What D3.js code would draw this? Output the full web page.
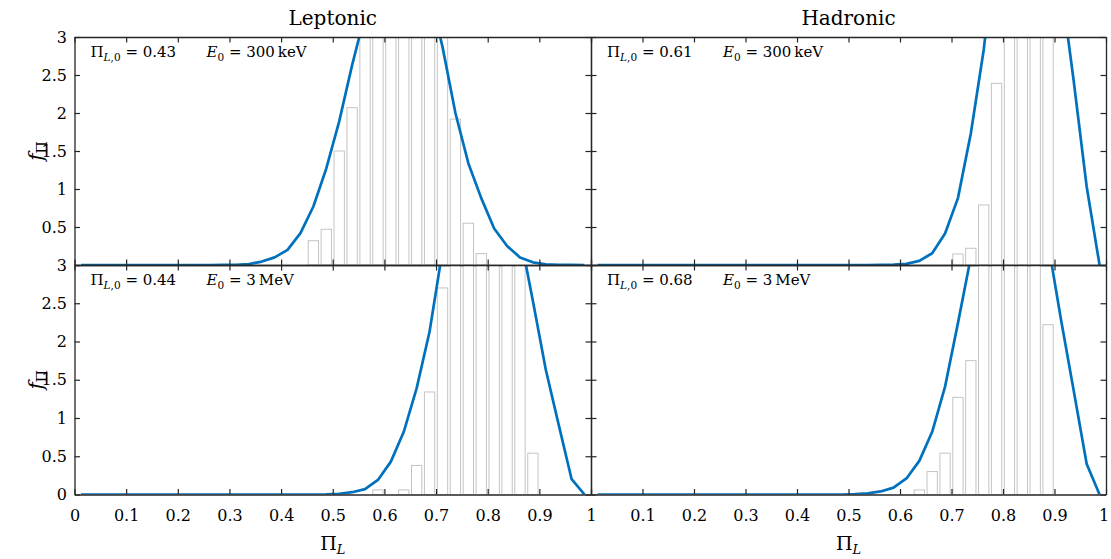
<!DOCTYPE html>
<html><head><meta charset="utf-8">
<script src="https://cdn.jsdelivr.net/npm/d3@7"></script>
<style>
body{margin:0;background:#fff}
svg{display:block}
text{font-family:"DejaVu Serif","Liberation Serif",serif;fill:#000}
</style></head>
<body><svg id="chart" width="1111" height="559"></svg>
<script>
// ---------- data ----------
const binCenters = [0.0125,0.0375,0.0625,0.0875,0.1125,0.1375,0.1625,0.1875,0.2125,0.2375,
  0.2625,0.2875,0.3125,0.3375,0.3625,0.3875,0.4125,0.4375,0.4625,0.4875,
  0.5125,0.5375,0.5625,0.5875,0.6125,0.6375,0.6625,0.6875,0.7125,0.7375,
  0.7625,0.7875,0.8125,0.8375,0.8625,0.8875,0.9125,0.9375,0.9625,0.9875];
const xTicks = [0,0.1,0.2,0.3,0.4,0.5,0.6,0.7,0.8,0.9,1];
const yTicks = [0,0.5,1,1.5,2,2.5,3];
const columnTitles = ["Leptonic","Hadronic"];
const panelNames = ["lep300keV","had300keV","lep3MeV","had3MeV"];
const polInitial = ["0.43","0.61","0.44","0.68"];
const energyValue = ["300","300","3","3"];
const energyUnit = ["keV","keV","MeV","MeV"];

// histogram heights (bins of width 0.025)
const histLep300keV = [0,0,0,0,0,0,0,0,0,0, 0,0,0,0,0,0,0,0,0.32,0.47,
  1.50,2.07,3.6,4.6,5.4,5.7,5.3,4.6,3.5,1.92, 0.55,0.15,0,0,0,0,0,0,0,0];
const histHad300keV = [0,0,0,0,0,0,0,0,0,0, 0,0,0,0,0,0,0,0,0,0,
  0,0,0,0,0,0,0,0,0.145,0.22, 0.79,2.39,7.5,10.5,10.5,8.0,0,0,0,0];
const histLep3MeV = [0,0,0,0,0,0,0,0,0,0, 0,0,0,0,0,0,0,0,0,0,
  0,0,0,0.06,0,0.06,0.38,1.34,2.70,4.3, 5.6,6.5,6.8,6.2,5.4,0.54,0,0,0,0];
const histHad3MeV = [0,0,0,0,0,0,0,0,0,0, 0,0,0,0,0,0,0,0,0,0,
  0,0,0,0,0,0.06,0.30,0.54,1.27,1.75, 4.6,6.6,8.0,8.2,6.5,2.22,0,0,0,0];

// model curves at bin centres
const curveLep300keV = [0,0,0,0,0,0,0,0,0,0, 0,0.001,0.003,0.012,0.045,0.10,0.20,0.42,0.77,1.27,
  1.89,2.63,3.3,3.9,4.3,4.35,4.1,3.6,2.87,2.0, 1.34,0.88,0.48,0.25,0.10,0.035,0.01,0.003,0.001,0];
const curveHad300keV = [0,0,0,0,0,0,0,0,0,0, 0,0,0,0,0,0,0,0,0,0,
  0,0,0.001,0.004,0.015,0.055,0.155,0.415,0.88,1.73, 2.83,4.3,5.6,6.3,6.2,5.4,3.7,2.41,1.03,0];
const curveLep3MeV = [0,0,0,0,0,0,0,0,0,0, 0,0,0,0,0,0,0,0,0,0.003,
  0.01,0.03,0.07,0.19,0.43,0.82,1.39,2.13,3.19,4.0, 4.6,4.9,4.8,4.3,3.4,2.53,1.63,0.91,0.20,0];
const curveHad3MeV = [0,0,0,0,0,0,0,0,0,0, 0,0,0,0,0,0,0,0,0,0,
  0.005,0.015,0.04,0.09,0.21,0.44,0.82,1.41,2.24,3.10, 4.0,4.9,5.4,5.3,4.6,3.29,2.29,1.35,0.40,0];

const histograms = [histLep300keV, histHad300keV, histLep3MeV, histHad3MeV];
const curves = [curveLep300keV, curveHad300keV, curveLep3MeV, curveHad3MeV];

// ---------- layout ----------
const colX = [[74.5,591],[591,1106]];
const rowY = [[37,265],[265,494.5]];
const binWidth = 0.02;
const axisColor = "#262626";
const curveColor = "#0072BD";
const barEdge = "#c4c4c4";

const svg = d3.select("#chart");
const defs = svg.append("defs");

for (let p = 0; p < 4; p++) {
  const col = p % 2, row = Math.floor(p / 2);
  const [x0,x1] = colX[col], [y0,y1] = rowY[row];
  const x = d3.scaleLinear().domain([0,1]).range([x0,x1]);
  const y = d3.scaleLinear().domain([0,3]).range([y1,y0]);
  const g = svg.append("g");
  const clipId = "clip" + p;
  defs.append("clipPath").attr("id", clipId).append("rect")
    .attr("x", x0).attr("y", y0).attr("width", x1-x0).attr("height", y1-y0);
  const plot = g.append("g").attr("clip-path", `url(#${clipId})`);

  const hist = histograms[p].map((v,i)=>({c:binCenters[i], v})).filter(d=>d.v>0);
  plot.selectAll("rect.bar").data(hist).enter().append("rect")
    .attr("class","bar")
    .attr("x", d=>x(d.c - binWidth/2))
    .attr("width", d=>x(binWidth) - x(0))
    .attr("y", d=>y(d.v))
    .attr("height", d=>y(0)-y(d.v))
    .attr("fill","#fff").attr("stroke",barEdge).attr("stroke-width",1);

  const line = d3.line().x((d,i)=>x(binCenters[i])).y(d=>y(d));
  plot.append("path").datum(curves[p]).attr("d", line)
    .attr("fill","none").attr("stroke",curveColor).attr("stroke-width",2.7)
    .attr("stroke-linejoin","round");

  // axes
  const fmtX = d => (col === 1 && d === 0) ? "" : d3.format("")(d);
  const fmtY = d => (row === 0 && d === 0) ? "" : d3.format("")(d);
  const bottom = d3.axisBottom(x).tickValues(xTicks).tickSize(-5.5).tickSizeOuter(0)
    .tickPadding(15).tickFormat(row === 1 ? fmtX : "");
  const top = d3.axisTop(x).tickValues(xTicks).tickSize(-5.5).tickSizeOuter(0).tickFormat("");
  const left = d3.axisLeft(y).tickValues(yTicks).tickSize(-5.5).tickSizeOuter(0)
    .tickPadding(7.5).tickFormat(col === 0 ? fmtY : "");
  const right = d3.axisRight(y).tickValues(yTicks).tickSize(-5.5).tickSizeOuter(0).tickFormat("");
  const axB = g.append("g").attr("transform",`translate(0,${y1})`).call(bottom);
  const axT = g.append("g").attr("transform",`translate(0,${y0})`).call(top);
  const axL = g.append("g").attr("transform",`translate(${x0},0)`).call(left);
  const axR = g.append("g").attr("transform",`translate(${x1},0)`).call(right);
  [axB,axT,axL,axR].forEach(a=>{
    a.selectAll("path.domain").attr("stroke",axisColor).attr("stroke-width",1.3);
    a.selectAll(".tick line").attr("stroke",axisColor).attr("stroke-width",1.2);
    a.selectAll(".tick text").attr("fill","#000").style("font-size","16px")
      .style("font-family",'"DejaVu Serif",serif');
  });
  if (row === 1 && col === 1) {
    // keep the last tick label inside the page
    axB.selectAll(".tick text").filter(d => d === 1).attr("dx", -2.5);
  }

  // annotations
  const t1 = g.append("text").attr("x", x0+16).attr("y", y0+20).style("font-size","15px");
  t1.append("tspan").text("Π");
  t1.append("tspan").attr("dy",4).style("font-size","10.5px").style("font-style","italic").text("L");
  t1.append("tspan").style("font-size","10.5px").text(",0");
  t1.append("tspan").attr("dy",-4).text(" = " + polInitial[p]);
  const t2 = g.append("text").attr("x", x0+132).attr("y", y0+20).style("font-size","15px");
  t2.append("tspan").style("font-style","italic").text("E");
  t2.append("tspan").attr("dy",4).style("font-size","10.5px").text("0");
  t2.append("tspan").attr("dy",-4).text(" = " + energyValue[p] + "\u2009" + energyUnit[p]);

  // y label
  if (col === 0) {
    const yl = g.append("text")
      .attr("transform",`translate(43,${(y0+y1)/2}) rotate(-90)`)
      .attr("text-anchor","middle").style("font-size","20px");
    yl.append("tspan").style("font-style","italic").text("f");
    yl.append("tspan").attr("dy",4).style("font-size","14px").text("Π");
  }
  // x label
  if (row === 1) {
    const xl = g.append("text").attr("x",(x0+x1)/2).attr("y",550)
      .attr("text-anchor","middle").style("font-size","19px");
    xl.append("tspan").text("Π");
    xl.append("tspan").attr("dy",4).style("font-size","13px").style("font-style","italic").text("L");
  }
  // column titles
  if (row === 0) {
    svg.append("text").attr("x",(x0+x1)/2).attr("y",25).attr("text-anchor","middle")
      .style("font-size","20px").text(columnTitles[col]);
  }
}
</script></body></html>
